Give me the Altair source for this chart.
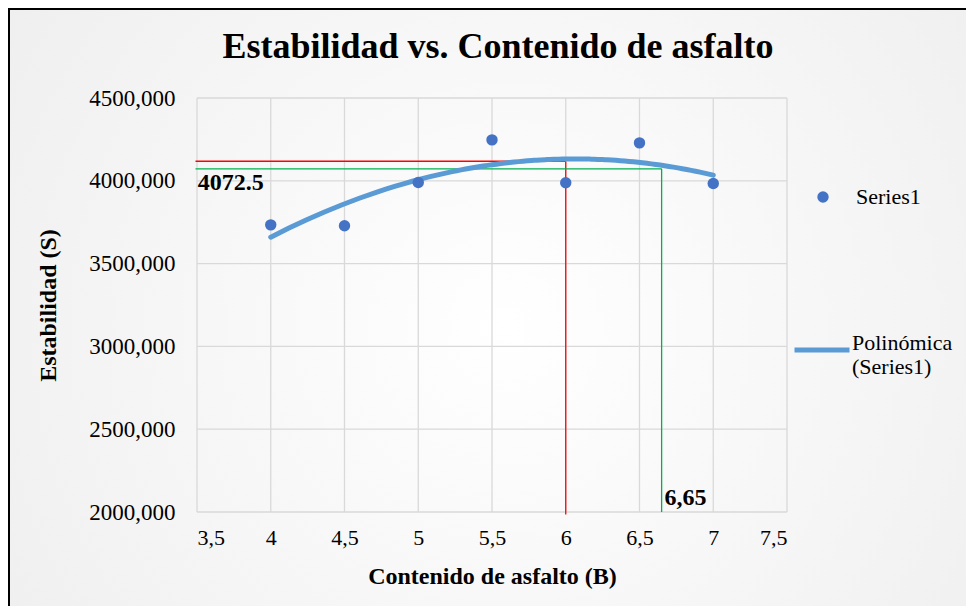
import altair as alt
import pandas as pd

# ---- data ----
contenido = [4.0, 4.5, 5.0, 5.5, 6.0, 6.5, 7.0]
estabilidad = [3734, 3729, 3990, 4247, 3988, 4229, 3984]
series_name = "Series1"
trend_name = "Polinómica (Series1)"

# reference (reading) lines
red_x, red_y = 6.0, 4118
green_x, green_y = 6.65, 4072.5
x_start = 3.49
y_bottom_red, y_bottom_green = 1985, 2000

x_ticks = [3.5, 4, 4.5, 5, 5.5, 6, 6.5, 7, 7.5]
y_ticks = [2000, 2500, 3000, 3500, 4000, 4500]
x_min, x_max = 3.5, 7.5
y_min, y_max = 2000, 4500

FONT = "Liberation Serif"
PT_COLOR = "#4472C4"
LINE_COLOR = "#5B9BD5"
GRID = "#d9d9d9"

df = pd.DataFrame({"x": contenido, "y": estabilidad, "s": [series_name] * len(contenido)})
rules = pd.DataFrame({
    "x": [x_start, red_x, x_start, green_x],
    "x2": [red_x, red_x, green_x, green_x],
    "y": [red_y, red_y, green_y, green_y],
    "y2": [red_y, y_bottom_red, green_y, y_bottom_green],
    "c": ["#FF0000", "#FF0000", "#00B050", "#00B050"],
})
labels = pd.DataFrame({
    "x": [3.505, 6.67],
    "y": [3987, 2085],
    "t": ["4072.5", "6,65"],
})
vgrid = pd.DataFrame({"x": x_ticks, "y": [y_min] * len(x_ticks), "y2": [y_max] * len(x_ticks)})
hgrid = pd.DataFrame({"y": y_ticks, "x": [x_min] * len(y_ticks), "x2": [x_max] * len(y_ticks)})

xs = alt.Scale(domain=[x_min, x_max], nice=False)
ys = alt.Scale(domain=[y_min, y_max], nice=False)

W, H = 590, 414
PAD_L, PAD_T = 189, 90
TOTAL_W, TOTAL_H = 958, 598

# background panel with frame
bg = alt.Chart(pd.DataFrame({"a": [0]})).mark_rect(
    fill=alt.RadialGradient(
        gradient="radial",
        stops=[alt.GradientStop(offset=0, color="#ffffff"),
               alt.GradientStop(offset=1, color="#ebebeb")],
        x1=0.5, y1=0.5, x2=0.5, y2=0.5, r1=0, r2=0.75),
    stroke="#000000", strokeWidth=2,
).encode(
    x=alt.value(-PAD_L + 1), x2=alt.value(TOTAL_W - PAD_L + 40),
    y=alt.value(-PAD_T + 1), y2=alt.value(TOTAL_H - PAD_T + 40),
)

x_axis = alt.Axis(
    values=x_ticks, grid=False, domain=False, ticks=False, zindex=1,
    labelExpr="replace(format(datum.value, '.1~f'), '.', ',')",
    labelFont=FONT, labelFontSize=22, labelColor="#000", labelPadding=15,
    title="Contenido de asfalto (B)", titleFont=FONT, titleFontSize=24,
    titleFontWeight="bold", titleColor="#000", titleY=64, titleBaseline="middle",
)
y_axis = alt.Axis(
    values=y_ticks, grid=False, domain=False, ticks=False, zindex=1,
    labelExpr="replace(format(datum.value, '.3f'), '.', ',')",
    labelFont=FONT, labelFontSize=23, labelColor="#000", labelPadding=22,
    title="Estabilidad (S)", titleFont=FONT, titleFontSize=24,
    titleFontWeight="bold", titleColor="#000",
    titleX=-149, titleY=H / 2, titleAngle=-90,
    titleAlign="center", titleBaseline="middle",
)

base = alt.Chart(df)

vgrid_layer = alt.Chart(vgrid).mark_rule(color=GRID, strokeWidth=1.3).encode(
    x=alt.X("x:Q", scale=xs, axis=x_axis),
    y=alt.Y("y:Q", scale=ys, axis=y_axis), y2="y2:Q",
)
hgrid_layer = alt.Chart(hgrid).mark_rule(color=GRID, strokeWidth=1.3).encode(
    y=alt.Y("y:Q", scale=ys), x=alt.X("x:Q", scale=xs), x2="x2:Q",
)

rule_layer = alt.Chart(rules).mark_rule(strokeWidth=1.3).encode(
    x=alt.X("x:Q", scale=xs), x2="x2:Q",
    y=alt.Y("y:Q", scale=ys), y2="y2:Q",
    color=alt.Color("c:N", scale=None),
)

trend = base.transform_regression(
    "x", "y", method="poly", order=2
).transform_calculate(
    s=f"'{trend_name}'"
).mark_line(strokeWidth=5, strokeCap="round").encode(
    x=alt.X("x:Q", scale=xs),
    y=alt.Y("y:Q", scale=ys),
    stroke=alt.Stroke(
        "s:N",
        scale=alt.Scale(domain=[trend_name], range=[LINE_COLOR]),
        legend=alt.Legend(
            orient="none", legendX=595, legendY=222, title=None, padding=0,
            symbolType="stroke", symbolSize=3025, symbolStrokeWidth=5,
            labelFont=FONT, labelFontSize=22, labelColor="#000",
            labelOffset=0, labelBaseline="alphabetic",
            labelExpr="datum.label == 'Polinómica (Series1)' ? ['Polinómica', '(Series1)'] : datum.label",
        ),
    ),
)

points = base.mark_circle(size=130, opacity=1).encode(
    x=alt.X("x:Q", scale=xs),
    y=alt.Y("y:Q", scale=ys),
    fill=alt.Fill(
        "s:N",
        scale=alt.Scale(domain=[series_name], range=[PT_COLOR]),
        legend=alt.Legend(
            orient="none", legendX=615, legendY=88, title=None, padding=0,
            symbolType="circle", symbolSize=130,
            symbolStrokeWidth=0,
            labelFont=FONT, labelFontSize=22, labelColor="#000",
            labelOffset=22, labelBaseline="middle",
        ),
    ),
)

text_layer = alt.Chart(labels).mark_text(
    font=FONT, fontSize=24, fontWeight="bold", color="#000",
    align="left", baseline="middle",
).encode(
    x=alt.X("x:Q", scale=xs),
    y=alt.Y("y:Q", scale=ys),
    text="t:N",
)

chart = alt.layer(
    bg, vgrid_layer, hgrid_layer, rule_layer, trend, points, text_layer
).properties(
    width=W, height=H,
    title=alt.Title(
        "Estabilidad vs. Contenido de asfalto",
        font=FONT, fontSize=36, fontWeight="bold", color="#000",
        anchor="middle", offset=0, dy=94, dx=6, baseline="bottom",
    ),
    autosize=alt.AutoSizeParams(type="none"),
    padding={"left": PAD_L, "top": PAD_T,
             "right": TOTAL_W - PAD_L - W, "bottom": TOTAL_H - PAD_T - H},
).configure_view(
    stroke=None
).configure(
    background="#f4f4f4"
)

chart.save("out.html", embed_options={"renderer": "svg", "actions": False})
